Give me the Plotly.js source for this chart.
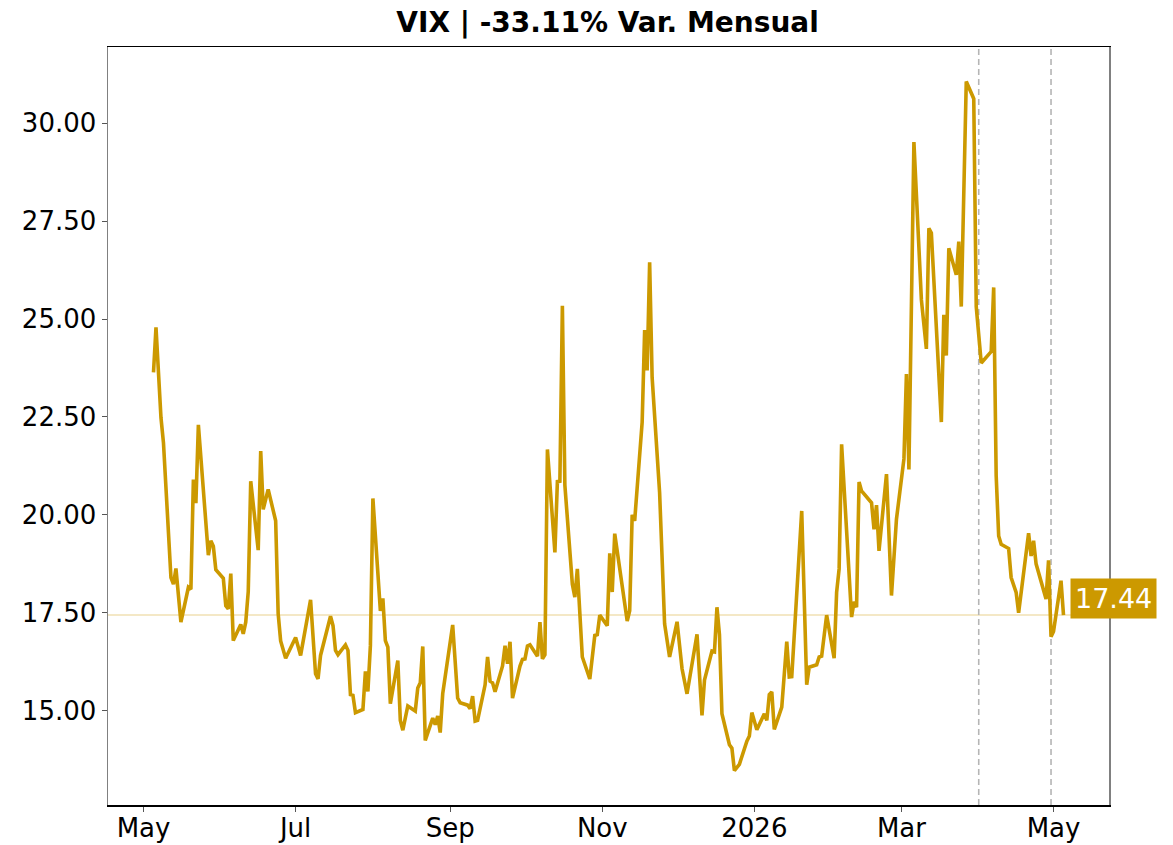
<!DOCTYPE html>
<html>
<head>
<meta charset="utf-8">
<script src="https://cdn.plot.ly/plotly-3.0.1.min.js"></script>
<style>html,body{margin:0;padding:0;background:#fff;}#chart{width:1173px;height:845px;}</style>
</head>
<body>
<div id="chart"></div>
<script>
const dates = [
"2025-05-05","2025-05-06","2025-05-08","2025-05-09","2025-05-12","2025-05-13","2025-05-14","2025-05-16",
"2025-05-19","2025-05-20","2025-05-21","2025-05-22","2025-05-23","2025-05-27","2025-05-28","2025-05-29","2025-05-30",
"2025-06-02","2025-06-03","2025-06-04","2025-06-05","2025-06-06","2025-06-09","2025-06-10","2025-06-11","2025-06-12","2025-06-13",
"2025-06-16","2025-06-17","2025-06-18","2025-06-20","2025-06-23","2025-06-24","2025-06-25","2025-06-27",
"2025-07-01","2025-07-03","2025-07-07","2025-07-09","2025-07-10","2025-07-11","2025-07-15","2025-07-16","2025-07-17","2025-07-18",
"2025-07-21","2025-07-22","2025-07-23","2025-07-24","2025-07-25","2025-07-28","2025-07-29","2025-07-30","2025-07-31",
"2025-08-01","2025-08-04","2025-08-05","2025-08-06","2025-08-07","2025-08-08","2025-08-11","2025-08-12","2025-08-13","2025-08-15",
"2025-08-18","2025-08-19","2025-08-20","2025-08-21","2025-08-22","2025-08-25","2025-08-26","2025-08-27","2025-08-28","2025-08-29",
"2025-09-02","2025-09-04","2025-09-05","2025-09-08","2025-09-09","2025-09-10","2025-09-11","2025-09-12",
"2025-09-15","2025-09-16","2025-09-17","2025-09-18","2025-09-19","2025-09-22","2025-09-23","2025-09-24","2025-09-25","2025-09-26",
"2025-09-29","2025-09-30","2025-10-01","2025-10-02","2025-10-03","2025-10-06","2025-10-07","2025-10-08","2025-10-09","2025-10-10",
"2025-10-13","2025-10-14","2025-10-15","2025-10-16","2025-10-17","2025-10-20","2025-10-21","2025-10-22","2025-10-24",
"2025-10-27","2025-10-29","2025-10-30","2025-10-31","2025-11-03","2025-11-04","2025-11-05","2025-11-06",
"2025-11-11","2025-11-12","2025-11-13","2025-11-14","2025-11-17","2025-11-18","2025-11-19","2025-11-20","2025-11-21",
"2025-11-24","2025-11-26","2025-11-28","2025-12-01","2025-12-03","2025-12-05","2025-12-09","2025-12-11","2025-12-12",
"2025-12-15","2025-12-16","2025-12-17","2025-12-18","2025-12-19","2025-12-22","2025-12-23","2025-12-24","2025-12-26",
"2025-12-29","2025-12-30","2025-12-31","2026-01-02","2026-01-05","2026-01-06","2026-01-07","2026-01-08","2026-01-09",
"2026-01-12","2026-01-14","2026-01-15","2026-01-16","2026-01-20","2026-01-22","2026-01-23","2026-01-26","2026-01-27","2026-01-28","2026-01-30",
"2026-02-02","2026-02-03","2026-02-04","2026-02-05","2026-02-09","2026-02-10","2026-02-11","2026-02-12","2026-02-13",
"2026-02-17","2026-02-18","2026-02-19","2026-02-20","2026-02-23","2026-02-25","2026-02-27",
"2026-03-02","2026-03-03","2026-03-04","2026-03-06","2026-03-09","2026-03-11","2026-03-12","2026-03-13",
"2026-03-17","2026-03-18","2026-03-19","2026-03-20","2026-03-23","2026-03-24","2026-03-25","2026-03-27","2026-03-30","2026-03-31",
"2026-04-02","2026-04-06","2026-04-07","2026-04-08","2026-04-09","2026-04-10","2026-04-13","2026-04-14","2026-04-16","2026-04-17",
"2026-04-21","2026-04-22","2026-04-23","2026-04-24","2026-04-28","2026-04-29","2026-04-30","2026-05-01","2026-05-04","2026-05-05"
];
const vix = [
23.64,24.79,22.48,21.84,18.40,18.23,18.63,17.26,
18.15,18.10,20.90,20.30,22.30,18.97,19.34,19.20,18.60,
18.38,17.68,17.60,18.50,16.79,17.20,16.96,17.26,18.04,20.86,
19.10,21.63,20.14,20.65,19.85,17.48,16.78,16.34,
16.87,16.41,17.83,15.94,15.81,16.41,17.41,17.17,16.54,16.43,
16.68,16.54,15.41,15.39,14.95,15.03,16.00,15.49,16.66,
20.42,17.55,17.87,16.79,16.62,15.18,16.28,14.75,14.50,15.12,
14.99,15.58,15.71,16.64,14.24,14.81,14.64,14.86,14.44,15.43,
17.19,15.32,15.20,15.14,15.05,15.37,14.73,14.75,
15.66,16.37,15.75,15.71,15.48,16.14,16.66,16.20,16.76,15.32,
16.14,16.31,16.32,16.65,16.68,16.39,17.26,16.32,16.43,21.67,
19.04,20.85,20.86,25.34,20.76,18.23,17.90,18.62,16.37,
15.81,16.92,16.94,17.44,17.17,19.02,18.03,19.52,
17.29,17.55,20.00,19.85,22.37,24.72,23.69,26.45,23.51,
20.57,17.22,16.37,17.27,16.07,15.43,16.95,14.88,15.78,
16.52,16.50,17.64,16.94,14.92,14.13,14.04,13.47,13.63,
14.22,14.35,14.95,14.51,14.92,14.75,15.41,15.48,14.52,
15.09,16.76,15.86,15.87,20.10,15.66,16.11,16.17,16.37,16.39,17.44,
16.34,18.02,18.62,21.80,17.39,17.78,17.64,20.84,20.61,
20.31,19.63,20.25,19.08,21.04,17.94,19.89,
21.43,23.60,21.16,29.52,25.49,24.24,27.32,27.20,
22.37,25.11,24.07,26.81,26.13,26.98,25.32,31.07,30.63,25.32,
23.88,24.17,25.81,21.00,19.46,19.25,19.14,18.40,18.02,17.50,
19.53,18.95,19.34,18.75,17.85,18.84,16.89,17.02,18.32,17.44
];
const titleText = "VIX | -33.11% Var. Mensual";
const tickDates = ["2025-05-01","2025-07-01","2025-09-01","2025-11-01","2026-01-01","2026-03-01","2026-05-01"];
const tickLabels = ["May","Jul","Sep","Nov","2026","Mar","May"];
const yTicks = [15, 17.5, 20, 22.5, 25, 27.5, 30];
const markerDates = ["2026-04-01","2026-04-30"];
const lastValue = vix[vix.length - 1];
const lastDate = dates[dates.length - 1];

const gold = "#cc9900";
const font = "DejaVu Sans, Verdana, sans-serif";

const trace = {
  x: dates, y: vix, type: "scatter", mode: "lines",
  line: {color: gold, width: 3.6}, hoverinfo: "skip", showlegend: false
};

const shapes = [
  {type: "line", xref: "paper", x0: 0, x1: 1, yref: "y", y0: lastValue, y1: lastValue,
   line: {color: "rgba(204,153,0,0.3)", width: 1.5}, layer: "below"}
];
markerDates.forEach(d => shapes.push({
  type: "line", xref: "x", x0: d, x1: d, yref: "paper", y0: 0, y1: 1,
  line: {color: "#b5b5b5", width: 1.6, dash: "6px,4px"}, layer: "below"
}));

const layout = {
  width: 1173, height: 845,
  margin: {l: 108, r: 64, t: 47, b: 40},
  paper_bgcolor: "#fff", plot_bgcolor: "#fff",
  font: {family: font, color: "#000"},
  title: {text: "<b>" + titleText + "</b>", font: {family: font, size: 28, color: "#000"},
          x: 0.518, xanchor: "center", y: 0.974, yanchor: "middle"},
  xaxis: {
    type: "date",
    range: ["2025-04-16 18:00", "2026-05-23 06:00"],
    tickmode: "array", tickvals: tickDates, ticktext: tickLabels,
    tickfont: {family: font, size: 26, color: "#000"},
    ticks: "outside", ticklen: 5, tickcolor: "#555", tickwidth: 1,
    ticklabelstandoff: -6,
    showgrid: false, zeroline: false,
    showline: true, linecolor: "#000", linewidth: 1.5, mirror: true
  },
  yaxis: {
    range: [12.59, 31.95],
    tickmode: "array", tickvals: yTicks, ticktext: yTicks.map(v => v.toFixed(2)),
    tickfont: {family: font, size: 26, color: "#000"},
    ticks: "outside", ticklen: 5, tickcolor: "#555", tickwidth: 1,
    showgrid: false, zeroline: false,
    showline: true, linecolor: "#808080", linewidth: 1.5, mirror: true
  },
  shapes: shapes,
  annotations: [{
    xref: "x", yref: "y", x: lastDate, y: lastValue,
    text: lastValue.toFixed(2), showarrow: false,
    xanchor: "left", yanchor: "bottom", xshift: 6, yshift: -4,
    bgcolor: gold, borderpad: 4,
    font: {family: font, size: 27, color: "#fff"}
  }]
};

Plotly.newPlot("chart", [trace], layout, {staticPlot: true, displayModeBar: false});
</script>
</body>
</html>
